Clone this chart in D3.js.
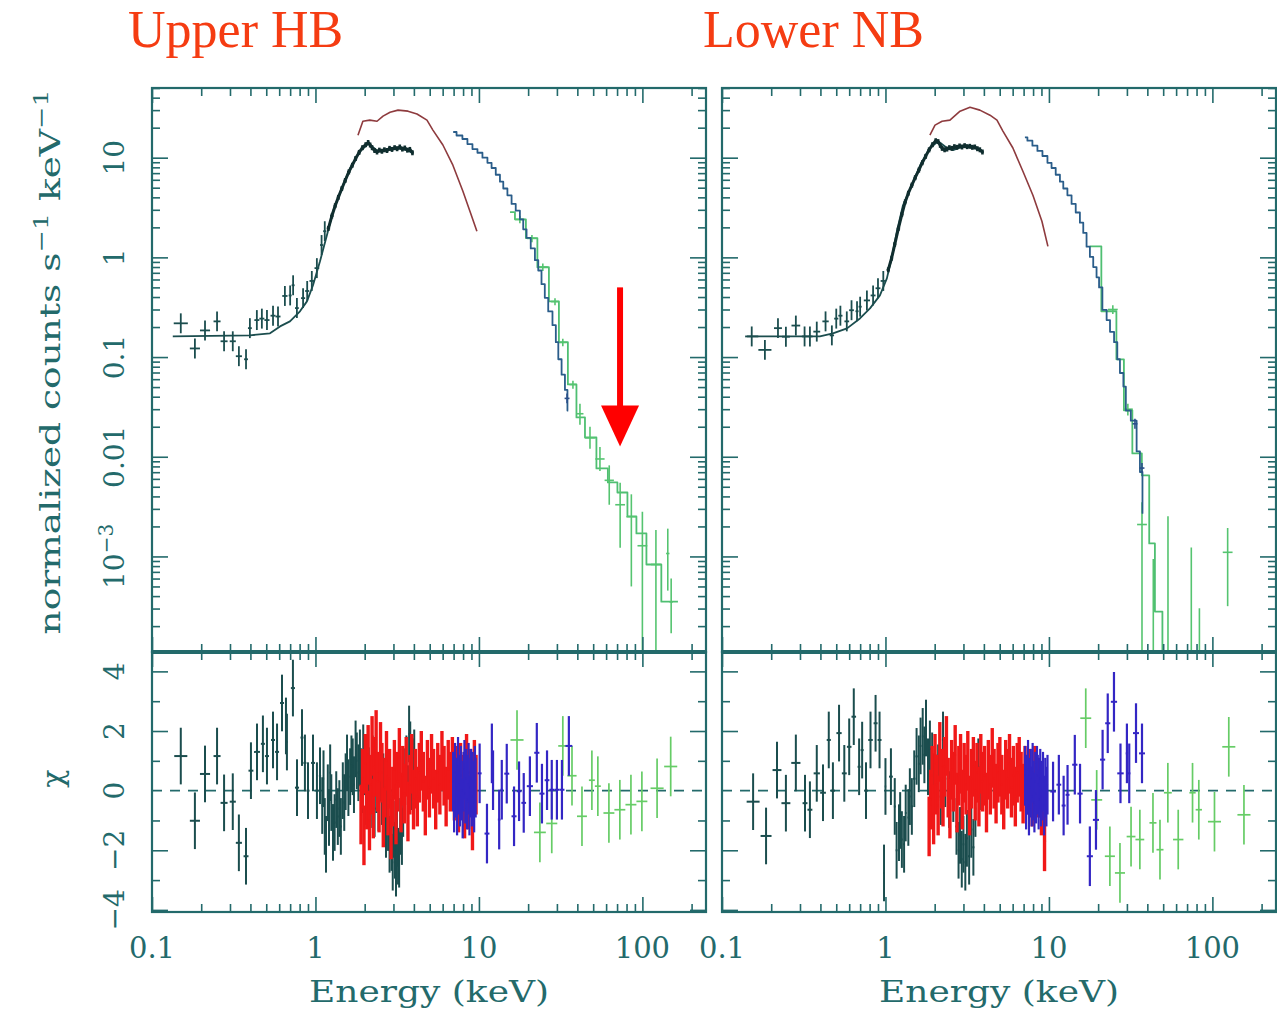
<!DOCTYPE html>
<html>
<head>
<meta charset="utf-8">
<script src="https://cdn.jsdelivr.net/npm/d3@7/dist/d3.min.js"></script>
<style>
  body { margin: 0; background: #fff; }
  svg { display: block; }
  text { font-family: "DejaVu Serif", serif; }
</style>
</head>
<body>
<svg id="chart" width="1277" height="1015"></svg>
<script>
// ---------------- values ----------------
var panelTitles = ["Upper HB", "Lower NB"];
var energyTicks = [0.1, 1, 10, 100];
var energyTickLabels = ["0.1", "1", "10", "100"];
var countTicks = [10, 1, 0.1, 0.01, 0.001];
var countTickLabels = ["10", "1", "0.1", "0.01", "10|−3"];
var chiTicks = [4, 2, 0, -2, -4];
var chiTickLabels = ["4", "2", "0", "−2", "−4"];

// Upper HB : spectrum (normalized counts s^-1 keV^-1)
var hbBlackModelE = [0.134,0.397,0.527,0.607,0.698,0.804,0.887,0.966,1.066,1.175,1.28,1.45,1.63,1.87,2.10,2.22,2.41,2.74,3.15,3.63,3.94];
var hbBlackModelV = [0.161,0.165,0.173,0.203,0.228,0.288,0.362,0.525,0.914,1.67,2.90,4.94,7.85,11.6,13.7,13.0,11.6,11.9,12.5,11.9,11.1];
var hbBlackLowE = [0.150,0.183,0.211,0.250,0.276,0.312,0.340,0.376,0.397,0.438,0.470,0.505,0.550,0.590,0.650,0.700,0.730,0.770,0.840,0.890,0.950,1.02,1.09,1.14];
var hbBlackLowV = [0.218,0.122,0.185,0.228,0.144,0.144,0.102,0.095,0.195,0.235,0.243,0.235,0.26,0.255,0.41,0.415,0.525,0.31,0.39,0.46,0.58,0.78,1.33,1.83];
var hbBlackDenseE = [1.20,1.26,1.32,1.38,1.45,1.52,1.60,1.68,1.76,1.85,1.94,2.03,2.10,2.16,2.22,2.30,2.38,2.46,2.55,2.64,2.74,2.84,2.94,3.05,3.16,3.28,3.40,3.52,3.65,3.78,3.92];
var hbBlackDenseV = [1.95,2.6,3.3,4.0,4.9,5.9,7.2,8.4,9.8,11.3,12.6,13.5,14.2,13.4,12.6,11.8,11.4,11.9,11.6,12.0,11.8,12.4,12.1,12.6,12.3,12.8,12.2,12.5,11.9,12.1,11.2];
var hbRedE = [1.82,1.95,2.15,2.38,2.59,2.86,3.20,3.68,4.18,4.81,5.23,6.02,6.93,7.98,8.81,9.72];
var hbRedV = [16.8,23.2,23.8,23.2,26.1,28.6,30.0,29.3,27.4,23.8,18.9,13.4,8.4,4.61,2.90,1.83];
var hbBlueE = [6.96,7.65,8.21,8.81,9.46,10.14,10.89,11.67,12.24,13.13,13.77,14.42,15.47,16.22,17.39,18.24,19.10,20.03,21.49,22.54,23.6,24.7,25.9,27.2,29.2,29.9,31.3,32.8,34.4,35.2];
var hbBlueV = [18.1,16.7,15.4,13.7,12.2,11.2,10.0,8.87,7.88,6.74,5.75,4.91,4.19,3.44,2.94,2.41,1.91,1.57,1.23,0.937,0.738,0.539,0.393,0.287,0.209,0.141,0.0951,0.0666,0.0468,0.0291];
var hbBlueDataE = [34.6];
var hbBlueDataV = [0.0385];
var hbGreenE = [15.5,17.8,21.1,24.6,29.2,32.6,37.6,41.5,47.8,57.3,66.0,75.0,87.5,96.6,116,147,165];
var hbGreenV = [2.84,2.41,1.56,0.796,0.362,0.141,0.0532,0.0248,0.0156,0.00763,0.00552,0.00438,0.00252,0.00170,0.00083,0.000352,0.000352];
var hbGreenDataE = [17.8,21.1,24.6,29.2,32.6,37.6,41.5,47.8,55.0,62.7,73.1,85.6,100,121,143,150];
var hbGreenDataV = [2.4,1.55,0.8,0.36,0.14,0.053,0.027,0.0155,0.0095,0.0058,0.0033,0.0025,0.00128,0.00083,0.00107,0.00035];
var hbGreenLo = [2.2,1.42,0.73,0.33,0.128,0.048,0.021,0.012,0.0072,0.0033,0.00122,0.0005,0.000001,0.000001,0.000454,0.00017];
var hbGreenHi = [2.6,1.68,0.87,0.39,0.153,0.058,0.034,0.020,0.0125,0.0082,0.0055,0.0042,0.0028,0.00184,0.0019,0.0006];

// Upper HB : residuals (chi)
var hbResBlackE = [0.150,0.183,0.211,0.250,0.276,0.312,0.340,0.376,0.403,0.439,0.477,0.505,0.550,0.582,0.624,0.660,0.669,0.728,0.771,0.827,0.862,0.900,0.966,1.021,1.066,1.10,1.12,1.14,1.16,1.19,1.21,1.23,1.25,1.28,1.31,1.34,1.37,1.40,1.43,1.47,1.50,1.53,1.56,1.59,1.63,1.66,1.69,1.72,1.76,1.79,1.83,1.87,1.90,1.93,1.96,2.00,2.04,2.07,2.12,2.18,2.24,2.30,2.36,2.43,2.49,2.55,2.60,2.66,2.70,2.74,2.78,2.84,2.88,2.92,2.97,3.01,3.06,3.11,3.15,3.20,3.25,3.30,3.38,3.44,3.54,3.60,3.68,3.74,3.80,3.86,3.94,4.02];
var hbResBlackChi = [1.16,-1.01,0.56,1.16,-0.41,-0.37,-1.75,-2.2,0.67,1.3,1.57,1.16,1.7,1.3,2.94,2.17,1.63,3.44,0.1,1.78,0.93,0.0,0.93,0.0,0.5,-0.5,0.4,-1.2,-1.8,-0.07,-0.9,0.6,-0.4,-1.4,-1.07,-0.3,-0.87,-0.6,-1.2,0.0,-0.4,0.3,0.93,0.1,0.47,0.9,0.8,0.2,1.4,1.0,0.6,1.1,0.47,0.2,1.27,0.8,-0.2,0.37,0.5,-0.3,0.9,-0.6,0.2,-0.4,0.6,-0.2,0.3,-0.64,-1.3,-0.4,-1.07,-1.8,-0.9,-1.74,-2.4,-1.3,-2.0,-2.6,-1.6,-2.2,-2.3,-1.2,-1.54,-0.6,0.47,0.9,-0.1,1.9,1.37,0.3,0.8,1.1];
var hbResRedE = [1.90,1.94,1.98,2.02,2.06,2.10,2.14,2.18,2.22,2.26,2.30,2.35,2.40,2.45,2.50,2.55,2.60,2.66,2.72,2.78,2.84,2.90,2.97,3.04,3.11,3.18,3.26,3.34,3.42,3.50,3.59,3.68,3.78,3.88,3.98,4.09,4.20,4.32,4.44,4.57,4.70,4.84,4.98,5.13,5.28,5.44,5.60,5.77,5.94,6.12,6.30,6.49,6.68,6.88,7.08,7.29,7.50,7.72,7.94,8.17,8.40,8.64,8.88,9.13,9.38,9.60];
var hbResRedChi = [-0.8,0.4,-1.5,0.9,-0.3,1.2,-1.0,0.2,1.5,-0.6,0.8,1.7,0.3,-0.4,1.3,0.6,-0.9,0.1,1.0,-0.5,0.4,-1.3,-0.2,0.7,-0.8,0.3,1.1,-0.4,0.5,-0.1,0.8,-0.7,0.2,0.9,-0.3,0.4,-0.2,0.6,1.0,0.3,-0.5,0.7,0.1,0.9,0.4,-0.3,0.6,0.2,1.0,0.5,-0.2,0.7,0.3,0.8,0.0,0.5,-0.4,0.6,0.2,-0.6,0.9,-0.3,0.4,-1.0,0.7,0.2];
var hbResBlueE = [6.95,7.05,7.15,7.25,7.35,7.45,7.55,7.65,7.75,7.85,7.95,8.05,8.15,8.25,8.35,8.45,8.55,8.65,8.75,8.85,8.95,9.05,9.15,9.25,9.35,9.45,9.55,10.1,11.2,12.0,12.2,13.3,13.8,14.8,16.4,17.6,18.8,20.5,22.6,24.3,26.1,27.9,30.0,32.2,35.5];
var hbResBlueChi = [0.3,-0.4,0.6,0.1,-0.5,0.8,0.2,-0.2,0.5,0.0,-0.6,0.3,0.7,-0.1,0.4,-0.3,0.2,0.6,-0.5,0.1,0.4,-0.2,0.3,0.0,-0.4,0.5,0.1,0.58,-1.44,1.25,0.35,-0.97,0.03,0.57,-0.86,-0.02,-0.41,0.15,1.27,-0.1,0.35,0.03,0.03,0.03,1.5];
var hbResGreenE = [17.1,23.6,27.9,32.6,37.1,42.7,49.1,53.4,62.4,72.8,85.1,99.3,123,149];
var hbResGreenChi = [1.7,-1.4,-1.1,1.5,0.5,-0.86,0.35,0.15,-0.75,-0.64,-0.47,-0.36,0.08,0.81];

// Lower NB : spectrum
var lnBlackModelE = [0.142,0.397,0.477,0.582,0.698,0.804,0.925,1.02,1.10,1.175,1.28,1.45,1.63,1.87,2.10,2.38,2.59,2.98,3.43,3.94];
var lnBlackModelV = [0.161,0.161,0.173,0.194,0.244,0.308,0.416,0.616,1.05,1.83,3.33,5.3,8.4,12.5,14.6,12.5,11.9,13.0,13.0,11.6];
var lnBlackLowE = [0.152,0.183,0.22,0.246,0.283,0.32,0.345,0.38,0.43,0.47,0.50,0.53,0.58,0.62,0.67,0.70,0.77,0.84,0.90,0.97];
var lnBlackLowV = [0.161,0.118,0.195,0.160,0.207,0.161,0.161,0.18,0.228,0.165,0.243,0.26,0.228,0.295,0.288,0.32,0.37,0.415,0.49,0.58];
var lnBlackDenseE = [1.04,1.09,1.14,1.20,1.26,1.32,1.38,1.45,1.52,1.60,1.68,1.76,1.85,1.94,2.03,2.10,2.16,2.22,2.30,2.38,2.46,2.55,2.64,2.74,2.84,2.94,3.05,3.16,3.28,3.40,3.52,3.65,3.78,3.92];
var lnBlackDenseV = [0.75,0.98,1.35,1.95,2.7,3.6,4.4,5.3,6.3,7.5,8.9,10.3,12.0,13.5,14.8,14.5,13.3,12.4,12.0,12.2,12.6,12.4,12.9,12.7,13.1,12.8,13.2,12.9,13.0,12.7,12.8,12.3,12.0,11.4];
var lnRedE = [1.87,2.01,2.22,2.48,2.86,3.29,3.78,4.36,4.81,5.23,6.02,6.93,7.98,9.06,9.86];
var lnRedV = [16.8,21.2,23.2,23.8,29.3,32.1,30.0,26.7,23.8,18.5,12.5,7.31,4.2,2.30,1.29];
var lnBlueE = [7.13,7.65,8.21,8.81,9.46,10.14,10.62,11.40,11.96,12.53,13.43,14.09,15.10,15.85,16.60,17.39,18.24,19.10,20.03,20.5,22.0,23.1,24.2,25.9,26.5,27.9,29.2,29.9,33.6,35.2,36.9,37.8];
var lnBlueV = [16.0,14.8,13.2,11.7,10.4,8.87,7.88,6.74,5.75,4.91,4.19,3.44,2.82,2.23,1.76,1.28,1.01,0.80,0.631,0.499,0.298,0.235,0.179,0.141,0.0951,0.0692,0.0506,0.0291,0.0230,0.0113,0.00703,0.00273];
var lnBlueDataE = [33.6,37.1];
var lnBlueDataV = [0.0214,0.0077];
var lnGreenE = [17.8,24.6,27.2,30.4,34.5,39.7,42.5,46.6,52.5,60.0];
var lnGreenV = [1.29,0.288,0.0948,0.0292,0.0108,0.0065,0.00135,0.00028,0.000001,0.000001];
var lnGreenDataE = [24.6,30.4,37.1,43.5,53.5,74.3,83.3,124];
var lnGreenDataV = [0.30,0.030,0.00209,0.00005,0.00005,0.00005,0.00005,0.0011];
var lnGreenLo = [0.27,0.026,0.000001,0.000001,0.000001,0.000001,0.000001,0.000317];
var lnGreenHi = [0.33,0.034,0.0035,0.00094,0.00253,0.00123,0.000302,0.00193];

// Lower NB : residuals
var lnResBlackE = [0.155,0.186,0.217,0.246,0.283,0.322,0.345,0.38,0.415,0.45,0.477,0.52,0.56,0.60,0.64,0.69,0.72,0.76,0.81,0.87,0.92,0.98,1.0,1.08,1.14,1.17,1.21,1.23,1.26,1.30,1.33,1.38,1.41,1.45,1.50,1.55,1.60,1.64,1.69,1.73,1.77,1.82,1.87,1.93,1.98,2.04,2.10,2.18,2.25,2.32,2.45,2.60,2.72,2.80,2.86,2.93,3.00,3.08,3.15,3.25,3.35,3.45,3.55,3.70,3.85];
var lnResBlackChi = [-0.37,-1.52,0.69,-0.42,0.93,-0.42,-0.64,0.58,-0.07,1.7,0.0,1.93,0.58,1.47,2.48,0.8,1.36,0.0,1.7,2.26,1.7,-2.76,0.14,0.47,-0.53,-2.0,-1.41,-1.0,-1.64,-1.8,-0.75,-0.9,-0.2,-0.53,0.4,1.15,0.9,1.5,1.82,1.2,2.1,0.8,1.4,1.0,0.3,0.26,0.6,-0.2,1.7,0.4,-0.3,-0.1,-1.2,-2.0,-1.5,-2.3,-1.8,-2.4,-1.6,-2.2,-1.3,-1.9,-0.6,0.8,0.3];
var lnResRedE = [1.85,1.89,1.93,1.97,2.01,2.05,2.10,2.15,2.20,2.25,2.30,2.36,2.42,2.48,2.54,2.60,2.67,2.74,2.81,2.88,2.95,3.03,3.11,3.19,3.27,3.36,3.45,3.54,3.63,3.73,3.83,3.93,4.04,4.15,4.26,4.38,4.50,4.62,4.75,4.88,5.01,5.15,5.29,5.44,5.59,5.74,5.90,6.06,6.23,6.40,6.58,6.76,6.95,7.14,7.34,7.6,7.9,8.2,8.6,9.0,9.4];
var lnResRedChi = [-1.2,-0.3,0.5,-0.8,0.9,0.2,-0.5,1.3,0.4,-0.2,0.8,1.5,0.1,-0.6,0.7,0.3,1.2,-0.4,0.5,0.9,-0.3,0.6,0.2,1.0,-0.5,0.4,0.8,0.0,0.6,-0.2,0.9,0.3,0.5,-0.4,0.7,0.2,1.1,0.4,-0.1,0.6,0.8,0.2,-0.3,0.7,0.4,0.9,0.1,0.5,-0.2,0.6,0.8,0.3,-0.1,0.5,0.2,0.4,-0.2,0.5,0.1,-0.5,-1.7];
var lnResBlueE = [7.15,7.25,7.35,7.45,7.55,7.65,7.75,7.85,7.95,8.05,8.15,8.25,8.35,8.45,8.55,8.65,8.75,8.85,8.95,9.05,9.20,9.35,9.50,9.65,9.80,10.6,11.5,12.3,13.0,14.4,15.5,17.8,19.4,21.3,22.9,25.0,27.4,30.0,31.0,34.1,37.1];
var lnResBlueChi = [0.5,-0.3,0.2,0.7,-0.5,0.1,0.4,-0.2,0.6,0.0,-0.4,0.3,-0.1,0.5,0.2,-0.3,0.1,0.4,-0.2,0.0,0.3,-0.5,0.1,-0.2,0.2,-0.03,0.2,-0.5,-0.14,0.87,-0.1,-2.2,-0.98,1.04,2.26,2.98,0.58,1.25,0.58,1.93,1.25];
var lnResGreenE = [16.8,19.6,23.6,27.2,31.8,36.0,43.3,47.8,53.4,61.8,75.6,82.6,103,126,156];
var lnResGreenChi = [2.43,-0.31,-2.2,-2.76,-1.54,-1.64,-1.08,-1.98,-0.07,-1.64,-0.07,-0.64,-1.04,1.47,-0.81];

// the red annotation arrow in the Upper HB panel (energy, from, to)
var arrowE = 73;
var arrowFrom = 0.5;
var arrowTo = 0.0127;

// ---------------- layout & styles ----------------
var ink = "#236a6b";
var inkDark = "#1b4d4e";
var titleColor = "#f53c12";
var TOP = 88, MID = 652, BOT = 912;
var energyDomain = [0.1, 245];
var countDomain = [1.1e-4, 50];
var chiDomain = [-4.07, 4.65];

var svg = d3.select("#chart");
var defs = svg.append("defs");

var panels = [
  { title: panelTitles[0], left: 152, right: 706, titleX: 128, yLabels: true, arrow: true,
    blackModel: [hbBlackModelE, hbBlackModelV],
    blackLow: [hbBlackLowE, hbBlackLowV],
    blackDense: [hbBlackDenseE, hbBlackDenseV],
    red: [hbRedE, hbRedV],
    blue: [hbBlueE, hbBlueV], blueData: [hbBlueDataE, hbBlueDataV],
    green: [hbGreenE, hbGreenV], greenData: [hbGreenDataE, hbGreenDataV, hbGreenLo, hbGreenHi],
    resid: [
      { E: hbResBlackE, chi: hbResBlackChi, err: 0.95, color: inkDark, width: 2, cap: 0.04 },
      { E: hbResRedE, chi: hbResRedChi, err: 1.0, color: "#f01818", width: 3.4, cap: 0.02 },
      { E: hbResGreenE, chi: hbResGreenChi, err: 1.0, color: "#66cc66", width: 1.7, cap: 0.04 },
      { E: hbResBlueE, chi: hbResBlueChi, err: 1.0, color: "#3326c4", width: 2.2, cap: 0.022 }
    ] },
  { title: panelTitles[1], left: 722, right: 1276, titleX: 703, yLabels: false, arrow: false,
    blackModel: [lnBlackModelE, lnBlackModelV],
    blackLow: [lnBlackLowE, lnBlackLowV],
    blackDense: [lnBlackDenseE, lnBlackDenseV],
    red: [lnRedE, lnRedV],
    blue: [lnBlueE, lnBlueV], blueData: [lnBlueDataE, lnBlueDataV],
    green: [lnGreenE, lnGreenV], greenData: [lnGreenDataE, lnGreenDataV, lnGreenLo, lnGreenHi],
    resid: [
      { E: lnResBlackE, chi: lnResBlackChi, err: 0.95, color: inkDark, width: 2, cap: 0.04 },
      { E: lnResRedE, chi: lnResRedChi, err: 1.0, color: "#f01818", width: 3.4, cap: 0.02 },
      { E: lnResGreenE, chi: lnResGreenChi, err: 1.0, color: "#66cc66", width: 1.7, cap: 0.04 },
      { E: lnResBlueE, chi: lnResBlueChi, err: 1.0, color: "#3326c4", width: 2.2, cap: 0.022 }
    ] }
];

/* inward tick marks with a d3 axis, domain line removed */
function tickMarks(g, axis, transform, width) {
  g.append("g")
    .attr("transform", transform)
    .attr("color", ink)
    .call(axis)
    .call(function(s) { s.select(".domain").remove(); s.selectAll("text").remove(); })
    .selectAll("line").attr("stroke-width", width);
}

/* half bin width in dex, from the spacing of neighbouring points */
function halfWidths(E, cap) {
  var l = E.map(function(e) { return Math.log10(e); });
  return l.map(function(v, i) {
    var gaps = [];
    if (i > 0) gaps.push(v - l[i - 1]);
    if (i < l.length - 1) gaps.push(l[i + 1] - v);
    return Math.min(cap, 0.5 * Math.min.apply(Math, gaps));
  });
}

/* crosses: vertical error bar + horizontal bin bar */
function specCrosses(g, sx, sy, E, V, lo, hi, cap, color, width) {
  var hw = halfWidths(E, cap);
  var pts = E.map(function(e, i) { return { e: e, v: V[i], lo: lo[i], hi: hi[i], w: hw[i] }; });
  var c = g.append("g").attr("stroke", color).attr("stroke-width", width);
  c.selectAll("line.v").data(pts).enter().append("line").attr("class", "v")
    .attr("x1", d => sx(d.e)).attr("x2", d => sx(d.e))
    .attr("y1", d => sy(d.lo)).attr("y2", d => sy(d.hi));
  c.selectAll("line.h").data(pts).enter().append("line").attr("class", "h")
    .attr("stroke-width", Math.min(width, 2))
    .attr("x1", d => sx(d.e / Math.pow(10, d.w))).attr("x2", d => sx(d.e * Math.pow(10, d.w)))
    .attr("y1", d => sy(d.v)).attr("y2", d => sy(d.v));
}

function symErr(V, dex) {
  return [V.map(v => v / Math.pow(10, dex)), V.map(v => v * Math.pow(10, dex))];
}

function pathLine(g, sx, sy, E, V, curve, color, width) {
  var pts = E.map(function(e, i) { return [e, V[i]]; });
  g.append("path")
    .datum(pts)
    .attr("fill", "none")
    .attr("stroke", color)
    .attr("stroke-width", width)
    .attr("stroke-linejoin", "round")
    .attr("d", d3.line().x(d => sx(d[0])).y(d => sy(d[1])).curve(curve));
}

function drawPanel(p, idx) {
  var sx = d3.scaleLog().domain(energyDomain).range([p.left, p.right]);
  var sy = d3.scaleLog().domain(countDomain).range([MID, TOP]);
  var sc = d3.scaleLinear().domain(chiDomain).range([BOT, MID]);

  defs.append("clipPath").attr("id", "cu" + idx).append("rect")
    .attr("x", p.left).attr("y", TOP).attr("width", p.right - p.left).attr("height", MID - TOP);
  defs.append("clipPath").attr("id", "cl" + idx).append("rect")
    .attr("x", p.left).attr("y", MID).attr("width", p.right - p.left).attr("height", BOT - MID);

  // title
  svg.append("text")
    .attr("x", p.titleX).attr("y", 47)
    .attr("fill", titleColor)
    .style("font-family", "'Liberation Serif', serif")
    .attr("font-size", 52)
    .text(p.title);

  // ---- upper: spectrum ----
  var up = svg.append("g").attr("clip-path", "url(#cu" + idx + ")");
  var bl = symErr(p.blackLow[1], 0.1);
  specCrosses(up, sx, sy, p.blackLow[0], p.blackLow[1], bl[0], bl[1], 0.045, inkDark, 1.8);
  pathLine(up, sx, sy, p.blackModel[0], p.blackModel[1], d3.curveLinear, inkDark, 1.8);
  var bd = symErr(p.blackDense[1], 0.025);
  specCrosses(up, sx, sy, p.blackDense[0], p.blackDense[1], bd[0], bd[1], 0.02, "#102e2f", 2.6);
  pathLine(up, sx, sy, p.blackDense[0], p.blackDense[1], d3.curveLinear, "#102e2f", 3);
  pathLine(up, sx, sy, p.red[0], p.red[1], d3.curveLinear, "#8e3b3e", 1.6);
  pathLine(up, sx, sy, p.green[0], p.green[1], d3.curveStep, "#4fbf72", 1.8);
  var gd = p.greenData;
  specCrosses(up, sx, sy, gd[0], gd[1], gd[2], gd[3], 0.03, "#55c470", 1.6);
  pathLine(up, sx, sy, p.blue[0], p.blue[1], d3.curveStep, "#2a5d8a", 1.8);
  var be = symErr(p.blueData[1], 0.05);
  specCrosses(up, sx, sy, p.blueData[0], p.blueData[1], be[0], be[1], 0.015, "#2a4f8a", 1.6);

  // ---- lower: residuals ----
  var low = svg.append("g").attr("clip-path", "url(#cl" + idx + ")");
  low.append("line")
    .attr("x1", p.left).attr("x2", p.right)
    .attr("y1", sc(0)).attr("y2", sc(0))
    .attr("stroke", ink).attr("stroke-width", 1.6)
    .attr("stroke-dasharray", "10,8");
  p.resid.forEach(function(r) {
    var lo = r.chi.map(c => c - r.err), hi = r.chi.map(c => c + r.err);
    specCrosses(low, sx, sc, r.E, r.chi, lo, hi, r.cap, r.color, r.width);
  });

  // ---- frames ----
  svg.append("rect").attr("x", p.left).attr("y", TOP).attr("width", p.right - p.left).attr("height", MID - TOP)
    .attr("fill", "none").attr("stroke", ink).attr("stroke-width", 2.2);
  svg.append("rect").attr("x", p.left).attr("y", MID).attr("width", p.right - p.left).attr("height", BOT - MID)
    .attr("fill", "none").attr("stroke", ink).attr("stroke-width", 2.2);
  svg.append("line").attr("x1", p.left).attr("x2", p.right).attr("y1", MID).attr("y2", MID)
    .attr("stroke", ink).attr("stroke-width", 4);

  // ---- ticks ----
  var xMajor = energyTicks;
  var xMinor = sx.ticks().filter(v => xMajor.indexOf(v) < 0 && v > energyDomain[0]);
  var tk = svg.append("g");
  [[d3.axisTop, TOP], [d3.axisBottom, MID], [d3.axisTop, MID], [d3.axisBottom, BOT]].forEach(function(a) {
    tickMarks(tk, a[0](sx).tickValues(xMajor).tickSize(-15), "translate(0," + a[1] + ")", 1.6);
    tickMarks(tk, a[0](sx).tickValues(xMinor).tickSize(-8), "translate(0," + a[1] + ")", 1.6);
  });
  var yMinor = sy.ticks().filter(v => countTicks.indexOf(+v.toPrecision(3)) < 0);
  [[d3.axisLeft, p.left], [d3.axisRight, p.right]].forEach(function(a) {
    tickMarks(tk, a[0](sy).tickValues(countTicks).tickSize(-16), "translate(" + a[1] + ",0)", 1.6);
    tickMarks(tk, a[0](sy).tickValues(yMinor).tickSize(-8), "translate(" + a[1] + ",0)", 1.6);
    tickMarks(tk, a[0](sc).tickValues([-4, -2, 2, 4]).tickSize(-16), "translate(" + a[1] + ",0)", 1.6);
    tickMarks(tk, a[0](sc).tickValues([-3, -1, 1, 3]).tickSize(-8), "translate(" + a[1] + ",0)", 1.6);
  });

  // ---- x labels ----
  svg.append("g").selectAll("text").data(energyTicks).enter().append("text")
    .attr("x", d => sx(d)).attr("y", 958)
    .attr("text-anchor", "middle").attr("font-size", 29).attr("fill", ink)
    .text((d, i) => energyTickLabels[i]);
  svg.append("text")
    .attr("x", (p.left + p.right) / 2).attr("y", 1002)
    .attr("text-anchor", "middle").attr("font-size", 29).attr("fill", ink)
    .attr("textLength", 240).attr("lengthAdjust", "spacingAndGlyphs")
    .text("Energy (keV)");

  // ---- y labels (left panel only) ----
  if (p.yLabels) {
    countTicks.forEach(function(v, i) {
      var parts = countTickLabels[i].split("|");
      var t = svg.append("text")
        .attr("transform", "translate(124," + sy(v) + ") rotate(-90)")
        .attr("text-anchor", "middle").attr("font-size", 28).attr("fill", ink);
      t.append("tspan").text(parts[0]);
      if (parts[1]) t.append("tspan").attr("dy", -11).attr("font-size", 20).text(parts[1]);
    });
    chiTicks.forEach(function(v, i) {
      svg.append("text")
        .attr("transform", "translate(124," + sc(v) + ") rotate(-90)")
        .attr("text-anchor", "middle").attr("font-size", 28).attr("fill", ink)
        .text(chiTickLabels[i]);
    });
    var yt = svg.append("text")
      .attr("transform", "translate(60,362) rotate(-90)")
      .attr("text-anchor", "middle").attr("font-size", 28).attr("fill", ink)
      .attr("textLength", 545).attr("lengthAdjust", "spacingAndGlyphs");
    yt.append("tspan").text("normalized counts s");
    yt.append("tspan").attr("dy", -12).attr("font-size", 20).text("−1");
    yt.append("tspan").attr("dy", 12).text(" keV");
    yt.append("tspan").attr("dy", -12).attr("font-size", 20).text("−1");
    svg.append("text")
      .attr("transform", "translate(63," + sc(0.4) + ") rotate(-90)")
      .attr("text-anchor", "middle").attr("font-size", 30).attr("fill", ink)
      .text("χ");
  }

  // ---- annotation arrow ----
  if (p.arrow) {
    var ax = sx(arrowE), yTip = sy(arrowTo), yBase = yTip - 41;
    svg.append("line")
      .attr("x1", ax).attr("x2", ax).attr("y1", sy(arrowFrom)).attr("y2", yBase + 2)
      .attr("stroke", "#ff0000").attr("stroke-width", 6);
    svg.append("path")
      .attr("d", d3.line()([[ax - 19, yBase], [ax + 19, yBase], [ax, yTip]]) + "Z")
      .attr("fill", "#ff0000");
  }
}

panels.forEach(drawPanel);
</script>
</body>
</html>
